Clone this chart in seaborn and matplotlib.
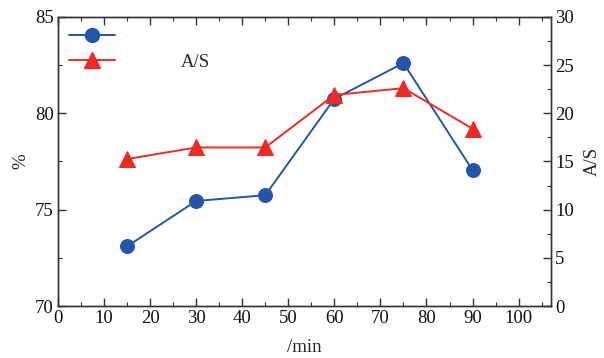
import matplotlib
matplotlib.use("Agg")
import matplotlib.pyplot as plt
import seaborn as sns
import pandas as pd
from matplotlib.ticker import MultipleLocator
from matplotlib.lines import Line2D

sns.set_style("ticks")
plt.rcParams['font.family'] = ['Liberation Serif', 'DejaVu Serif']
plt.rcParams['mathtext.fontset'] = 'stix'

time_min = [15, 30, 45, 60, 75, 90]
percent = [73.1, 75.45, 75.75, 80.75, 82.6, 77.05]
as_ratio = [15.25, 16.45, 16.45, 21.9, 22.6, 18.4]

blue = "#2356A8"
red = "#EE2A24"

df = pd.DataFrame({"time": time_min, "pct": percent, "as": as_ratio})

fig = plt.figure(figsize=(6.04, 3.58), dpi=100)
ax = fig.add_axes([0.096, 0.145, 0.816, 0.808])
ax2 = ax.twinx()

sns.lineplot(data=df, x="time", y="pct", ax=ax, color=blue, marker="o",
             markersize=10, markeredgecolor=blue, linewidth=1.4)
sns.lineplot(data=df, x="time", y="as", ax=ax2, color=red, marker="^",
             markersize=11, markeredgecolor=red, linewidth=1.4)

fs = 13.5
ax.set_xlim(0, 107)
ax.set_ylim(70, 85)
ax2.set_ylim(0, 30)
ax.xaxis.set_major_locator(MultipleLocator(10))
ax.xaxis.set_minor_locator(MultipleLocator(5))
ax.yaxis.set_major_locator(MultipleLocator(5))
ax.yaxis.set_minor_locator(MultipleLocator(2.5))
ax2.yaxis.set_major_locator(MultipleLocator(5))
ax2.yaxis.set_minor_locator(MultipleLocator(2.5))

ax.tick_params(axis="both", which="both", direction="in", top=True, labelsize=fs,
               color="#333333", labelcolor="#111111", pad=3)
ax.tick_params(which="major", length=6, width=1)
ax.tick_params(which="minor", length=3, width=0.8)
ax2.tick_params(axis="y", which="both", direction="in", labelsize=fs,
                color="#333333", labelcolor="#111111", pad=3)
ax2.tick_params(which="major", length=6, width=1)
ax2.tick_params(which="minor", length=3, width=0.8)

for a in (ax, ax2):
    for s in a.spines.values():
        s.set_color("#333333")
        s.set_linewidth(1.0)

ax.set_xlabel("/min", fontsize=fs, labelpad=-1)
ax.set_ylabel("%", fontsize=fs, labelpad=4)
ax2.set_ylabel("A/S", fontsize=fs, labelpad=7)
ax.xaxis.set_label_coords(0.5, -0.115)

handles = [
    Line2D([], [], color=blue, marker="o", markersize=10, linewidth=1.4),
    Line2D([], [], color=red, marker="^", markersize=11, linewidth=1.4),
]
leg = ax.legend(handles, ["", "A/S"], loc="upper left", frameon=False,
                fontsize=fs, handlelength=2.45, handletextpad=3.5,
                labelspacing=0.45, bbox_to_anchor=(0.0, 1.0), borderaxespad=0.2)

fig.savefig("out.png", dpi=100)
